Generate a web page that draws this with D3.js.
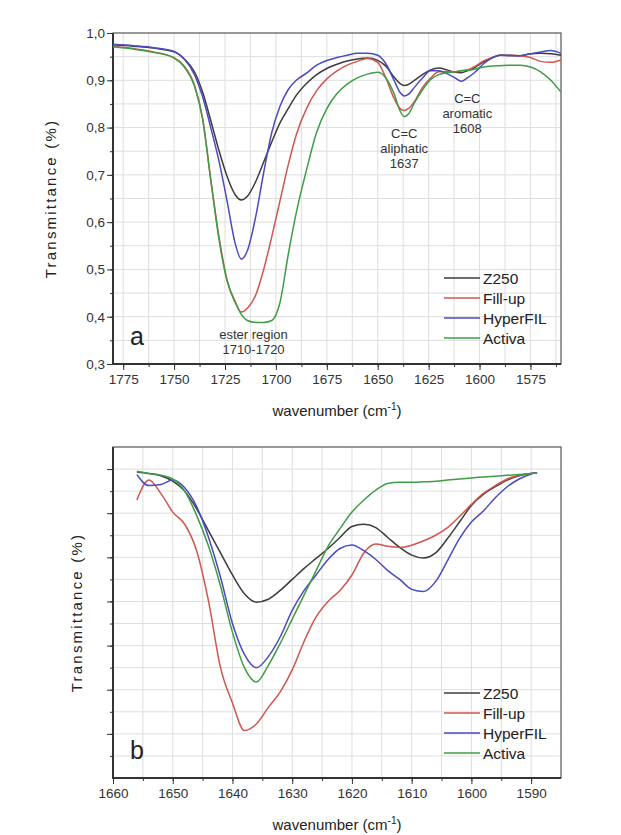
<!DOCTYPE html>
<html>
<head>
<meta charset="utf-8">
<script src="https://cdn.jsdelivr.net/npm/d3@7"></script>
<style>
  body { margin: 0; background: #fff; }
  svg { font-family: "Liberation Sans", Arial, sans-serif; }
  .grid line { stroke: #dedede; stroke-width: 1; }
  .axis path { display: none; }
  .axis line { stroke: #333; }
  .axis text { fill: #333; font-size: 13.5px; }
</style>
</head>
<body>
<script>
// ---- data: panel a (full carbonyl + C=C region) ----
var seriesNames = ["Z250", "Fill-up", "HyperFIL", "Activa"];
var seriesColors = ["#3c3c3c", "#d0564e", "#4a4ac4", "#3f9c47"];

var wavenumbersA = [1780, 1770, 1760, 1750, 1745, 1740, 1736, 1732, 1728, 1724, 1720, 1717, 1714, 1710, 1706, 1702,
  1698, 1694, 1690, 1685, 1680, 1675, 1670, 1665, 1660, 1655, 1650, 1646, 1642, 1639, 1637, 1635, 1632, 1628,
  1624, 1620, 1616, 1612, 1609, 1606, 1602, 1598, 1594, 1590, 1585, 1580, 1575, 1570, 1565, 1560];

var z250A = [0.975, 0.972, 0.968, 0.960, 0.945, 0.918, 0.875, 0.815, 0.752, 0.697, 0.658, 0.647, 0.655, 0.685, 0.727, 0.770,
  0.810, 0.840, 0.868, 0.893, 0.912, 0.925, 0.934, 0.941, 0.945, 0.947, 0.942, 0.930, 0.907, 0.893, 0.889, 0.891, 0.900, 0.912,
  0.922, 0.926, 0.922, 0.917, 0.916, 0.920, 0.928, 0.939, 0.947, 0.953, 0.952, 0.952, 0.956, 0.957, 0.956, 0.953];

var fillupA = [0.972, 0.967, 0.960, 0.948, 0.930, 0.890, 0.820, 0.690, 0.570, 0.478, 0.432, 0.410, 0.418, 0.445, 0.500, 0.570,
  0.645, 0.720, 0.785, 0.840, 0.878, 0.903, 0.920, 0.932, 0.940, 0.946, 0.938, 0.905, 0.862, 0.840, 0.836, 0.840, 0.855, 0.885,
  0.905, 0.918, 0.918, 0.918, 0.920, 0.922, 0.930, 0.941, 0.948, 0.953, 0.953, 0.952, 0.948, 0.940, 0.938, 0.943];

var hyperfilA = [0.976, 0.973, 0.969, 0.961, 0.945, 0.912, 0.865, 0.800, 0.730, 0.645, 0.555, 0.522, 0.540, 0.610, 0.705, 0.790,
  0.845, 0.880, 0.900, 0.915, 0.932, 0.942, 0.948, 0.953, 0.957, 0.957, 0.953, 0.935, 0.900, 0.874, 0.867, 0.870, 0.885, 0.905,
  0.920, 0.920, 0.914, 0.905, 0.898, 0.905, 0.918, 0.935, 0.947, 0.953, 0.953, 0.952, 0.956, 0.960, 0.963, 0.957];

var activaA = [0.971, 0.966, 0.959, 0.947, 0.928, 0.888, 0.818, 0.690, 0.565, 0.476, 0.430, 0.405, 0.392, 0.388, 0.388, 0.392,
  0.430, 0.530, 0.620, 0.710, 0.790, 0.840, 0.872, 0.892, 0.905, 0.913, 0.917, 0.905, 0.872, 0.835, 0.823, 0.828, 0.852, 0.880,
  0.902, 0.912, 0.916, 0.918, 0.920, 0.921, 0.924, 0.928, 0.930, 0.931, 0.932, 0.932, 0.928, 0.918, 0.900, 0.875];

var xTicksA = [1775, 1750, 1725, 1700, 1675, 1650, 1625, 1600, 1575];
var yTicksA = [0.3, 0.4, 0.5, 0.6, 0.7, 0.8, 0.9, 1.0];

// ---- data: panel b (C=C zoom, arbitrary transmittance units) ----
var wavenumbersB = [1656, 1654, 1652, 1650, 1648, 1646, 1644, 1642, 1640, 1638, 1636, 1634, 1632, 1630, 1628, 1626, 1624,
  1622, 1620, 1618, 1616, 1614, 1612, 1610, 1608, 1606, 1604, 1602, 1600, 1598, 1596, 1594, 1592, 1590, 1589];

var z250B = [13.87, 13.8, 13.7, 13.45, 13.0, 12.2, 11.2, 10.2, 9.2, 8.35, 7.97, 8.1, 8.5, 9.0, 9.5, 9.95, 10.4,
  10.9, 11.4, 11.5, 11.35, 10.9, 10.45, 10.1, 9.97, 10.2, 10.85, 11.6, 12.35, 12.85, 13.2, 13.5, 13.7, 13.8, 13.83];

var fillupB = [12.6, 13.5, 12.9, 12.05, 11.5, 10.3, 8.0, 5.0, 3.4, 2.15, 2.45, 3.2, 3.9, 4.9, 6.2, 7.3, 8.0,
  8.5, 9.2, 10.2, 10.6, 10.5, 10.45, 10.55, 10.75, 11.0, 11.35, 11.85, 12.4, 12.9, 13.25, 13.55, 13.72, 13.8, 13.83];

var hyperfilB = [13.75, 13.25, 13.3, 13.5, 13.15, 12.3, 10.9, 9.1, 7.0, 5.6, 5.0, 5.5, 6.4, 7.6, 8.5, 9.2, 9.9,
  10.4, 10.56, 10.3, 9.9, 9.4, 9.0, 8.55, 8.45, 8.9, 9.85, 10.85, 11.6, 12.1, 12.7, 13.2, 13.55, 13.78, 13.83];

var activaB = [13.9, 13.8, 13.72, 13.55, 13.0, 11.9, 10.5, 8.7, 6.6, 5.0, 4.35, 5.1, 6.1, 7.2, 8.3, 9.4, 10.5,
  11.3, 12.05, 12.6, 13.05, 13.35, 13.4, 13.4, 13.42, 13.45, 13.5, 13.55, 13.6, 13.64, 13.68, 13.72, 13.75, 13.8, 13.83];

var xTicksB = [1660, 1650, 1640, 1630, 1620, 1610, 1600, 1590];

var width = 621,
    height = 835;

var svg = d3.select("body").append("svg")
    .attr("width", width)
    .attr("height", height);

function zipSeries(xs, ys) {
  return xs.map(function(x, i) { return { w: x, v: ys[i] }; });
}

// draws one panel: grid, frame, axes, lines, legend
function drawPanel(cfg) {
  var x = d3.scaleLinear().domain(cfg.xDomain).range([cfg.left, cfg.right]);
  var y = d3.scaleLinear().domain(cfg.yDomain).range([cfg.bottom, cfg.top]);

  var g = svg.append("g");

  // grid at major + minor ticks
  var grid = g.append("g").attr("class", "grid");
  grid.selectAll(".gx")
      .data(cfg.xGrid)
    .enter().append("line")
      .attr("x1", function(d) { return x(d); })
      .attr("x2", function(d) { return x(d); })
      .attr("y1", cfg.top)
      .attr("y2", cfg.bottom);
  grid.selectAll(".gy")
      .data(cfg.yGrid)
    .enter().append("line")
      .attr("x1", cfg.left)
      .attr("x2", cfg.right)
      .attr("y1", function(d) { return y(d); })
      .attr("y2", function(d) { return y(d); });

  // minor ticks
  g.append("g")
      .attr("class", "axis")
      .attr("transform", "translate(0," + cfg.bottom + ")")
      .call(d3.axisBottom(x).tickValues(cfg.xGrid).tickSize(3).tickFormat(""));
  g.append("g")
      .attr("class", "axis")
      .attr("transform", "translate(" + cfg.left + ",0)")
      .call(d3.axisLeft(y).tickValues(cfg.yGrid).tickSize(3).tickFormat(""));

  // major ticks
  g.append("g")
      .attr("class", "axis")
      .attr("transform", "translate(0," + cfg.bottom + ")")
      .call(d3.axisBottom(x).tickValues(cfg.xTicks).tickSize(6).tickPadding(4).tickFormat(d3.format("d")));
  g.append("g")
      .attr("class", "axis")
      .attr("transform", "translate(" + cfg.left + ",0)")
      .call(d3.axisLeft(y).tickValues(cfg.yTicks).tickSize(6).tickPadding(2)
        .tickFormat(cfg.yFormat ? cfg.yFormat : ""));

  // frame
  g.append("rect")
      .attr("x", cfg.left)
      .attr("y", cfg.top)
      .attr("width", cfg.right - cfg.left)
      .attr("height", cfg.bottom - cfg.top)
      .attr("fill", "none")
      .attr("stroke", "#555")
      .attr("stroke-width", 1.2);
  g.append("path")
      .attr("d", "M" + cfg.left + "," + cfg.top + "V" + cfg.bottom + "H" + cfg.right)
      .attr("fill", "none")
      .attr("stroke", "#333")
      .attr("stroke-width", 2);

  var line = d3.line()
      .x(function(d) { return x(d.w); })
      .y(function(d) { return y(d.v); })
      .curve(d3.curveMonotoneX);

  g.selectAll(".series")
      .data(cfg.series)
    .enter().append("path")
      .attr("class", "series")
      .attr("d", function(d) { return line(zipSeries(cfg.xs, d)); })
      .attr("fill", "none")
      .attr("stroke", function(d, i) { return seriesColors[i]; })
      .attr("stroke-width", 1.5);

  // legend
  var leg = g.selectAll(".leg")
      .data(seriesNames)
    .enter().append("g")
      .attr("transform", function(d, i) { return "translate(444," + (cfg.legendY + i * 20) + ")"; });
  leg.append("line")
      .attr("x1", 0).attr("x2", 36)
      .attr("stroke", function(d, i) { return seriesColors[i]; })
      .attr("stroke-width", 1.5);
  leg.append("text")
      .attr("x", 39)
      .attr("dy", "0.36em")
      .style("font-size", "15.5px")
      .style("fill", "#222")
      .text(function(d) { return d; });

  // axis titles
  var xt = g.append("text")
      .attr("x", (cfg.left + cfg.right) / 2)
      .attr("y", cfg.xTitleY)
      .attr("text-anchor", "middle")
      .style("font-size", "15px")
      .style("fill", "#222")
      .text("wavenumber (cm");
  xt.append("tspan").attr("dy", -6).style("font-size", "10px").text("-1");
  xt.append("tspan").attr("dy", 6).text(")");

  g.append("text")
      .attr("transform", "translate(" + cfg.yTitleX + "," + (cfg.top + cfg.bottom) / 2 + ") rotate(-90)")
      .attr("text-anchor", "middle")
      .style("font-size", "15px")
      .style("letter-spacing", "2.2px")
      .style("fill", "#222")
      .text("Transmittance (%)");

  g.append("text")
      .attr("x", cfg.left + 17)
      .attr("y", cfg.bottom - 19)
      .style("font-size", "25px")
      .style("fill", "#222")
      .text(cfg.letter);

  return { x: x, y: y };
}

var commaFmt = function(d) { return d3.format(".1f")(d).replace(".", ","); };

var panelA = drawPanel({
  xDomain: [1780, 1560], yDomain: [0.3, 1.0],
  left: 113, right: 561, top: 33, bottom: 364,
  xs: wavenumbersA,
  series: [z250A, fillupA, hyperfilA, activaA],
  xTicks: xTicksA,
  xGrid: d3.range(1775, 1560, -12.5),
  yTicks: yTicksA,
  yGrid: d3.range(0.35, 1.0, 0.05),
  yFormat: commaFmt,
  legendY: 278,
  xTitleY: 416,
  yTitleX: 56,
  letter: "a"
});

var panelB = drawPanel({
  xDomain: [1660, 1585], yDomain: [0, 15],
  left: 113, right: 561, top: 447, bottom: 778,
  xs: wavenumbersB,
  series: [z250B, fillupB, hyperfilB, activaB],
  xTicks: xTicksB,
  xGrid: d3.range(1655, 1585, -5),
  yTicks: d3.range(2, 15, 2),
  yGrid: d3.range(1, 15, 1),
  yFormat: null,
  legendY: 693,
  xTitleY: 830,
  yTitleX: 82,
  letter: "b"
});

// peak annotations on panel a
var notes = [
  { w: 1711, v: 0.353, lines: ["ester region", "1710-1720"] },
  { w: 1637, v: 0.778, lines: ["C=C", "aliphatic", "1637"] },
  { w: 1606, v: 0.852, lines: ["C=C", "aromatic", "1608"] }
];

notes.forEach(function(n) {
  var t = svg.append("text")
      .attr("text-anchor", "middle")
      .style("font-size", "13px")
      .style("fill", "#333");
  n.lines.forEach(function(s, i) {
    t.append("tspan")
        .attr("x", panelA.x(n.w))
        .attr("y", panelA.y(n.v) + i * 15)
        .text(s);
  });
});
</script>
</body>
</html>
